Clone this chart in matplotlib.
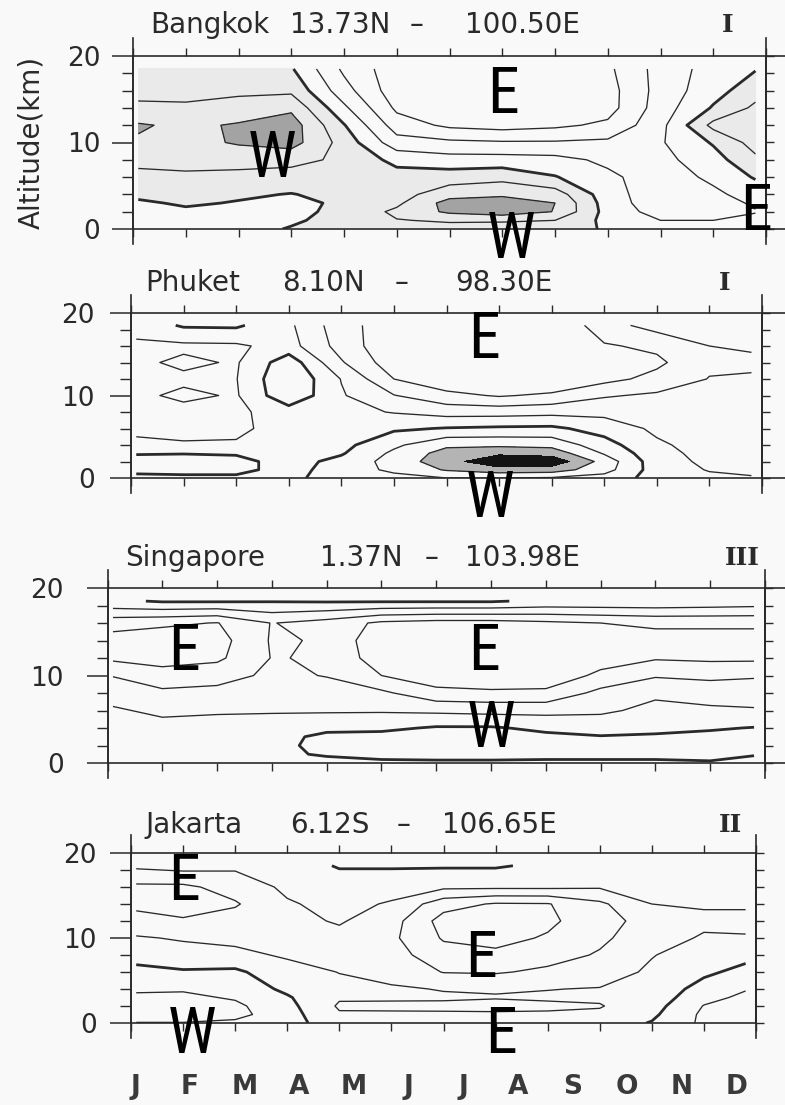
import numpy as np
import matplotlib.pyplot as plt

# sounding grid: month position (0 = start of Jan) and height (km)
months = [0.1, 1, 2, 3, 4, 5, 6, 7, 8, 9, 10, 11, 11.8]
alt_km = [0, 1, 2, 3, 4, 6, 8, 10, 12, 14, 16, 18.5]

# mean zonal wind (m/s, + = westerly), one list per month, ground -> top
bangkok_u = [
    [-3, -2.5, -1.5, -0.7, 1, 3.5, 6.5, 9.5, 10.5, 6, 3.5, 2],
    [-3, -2, -0.8, 0.6, 2, 4.2, 6.5, 8.5, 9, 5.5, 4, 2.5],
    [-2.5, -2, -1, -0.3, 0.7, 3.5, 7, 10.5, 10.5, 7, 4, 2.5],
    [0.5, -1, -1.5, -1.2, -0.2, 3, 6.5, 12, 12.5, 9, 4, 0.5],
    [2, 2.5, 1.5, 0.8, 1.5, 3, 4, 3, 0.3, -4, -8, -11],
    [3, 4.8, 6, 4, 3, 2, -1.5, -8, -12.5, -16, -18, -18],
    [3.5, 5.5, 11, 12, 8, 2.5, -3, -9, -16, -19, -20, -19],
    [3, 5.5, 13, 13, 9, 3.5, -3, -9.5, -17, -20, -21, -19],
    [2, 5, 9.8, 10, 7.5, 0.3, -3.5, -9.5, -16, -19, -20, -18],
    [-0.5, -1.5, -2, -2.5, -3, -4, -6, -9, -14, -17, -17, -16],
    [-3, -5, -7, -8, -8, -7.5, -6.5, -5.5, -6.5, -7.5, -8, -8],
    [-3, -5, -6.5, -6.5, -6, -4, -2, 0.5, 6.5, 0.5, -2, -3],
    [-2, -4, -5.2, -4.5, -3, 0.5, 4, 7, 8, 6, 3, -0.3],
]
phuket_u = [
    [-1, 1, 1.5, -0.3, -4, -6, -6.5, -6, -5.5, -6, -6, -3],
    [-1, 1.5, 2, -0.2, -4.5, -6.5, -6.5, -4, -6, -4, -6, 0.6],
    [-1, 1.5, 1.5, -0.5, -4.5, -6, -6, -5.5, -5.2, -5.5, -5.8, 0.8],
    [-1.5, -2, -2, -2.5, -3, -3, -2.5, 4, 4.8, 3, -3, -4],
    [3, 2.5, 1.5, -0.5, -1.5, -2.5, -3.5, -4.5, -5.2, -9.5, -12, -13],
    [3.5, 6, 7, 6, 4, -0.8, -5.3, -9.8, -15, -18, -19, -18],
    [5, 10.5, 13, 12, 9, 0.3, -7, -13.5, -19, -21, -22, -20],
    [5, 13, 19, 14, 9, 0.8, -7, -15.5, -21, -23, -23, -21],
    [4.5, 12.5, 18.5, 13, 8.5, 1, -6.5, -14, -20, -22, -22, -20],
    [3, 7, 8, 4.5, 2, -2, -6.5, -10.5, -16.5, -17.5, -15.5, -12],
    [-2, -2.5, -3, -3.5, -4.2, -6, -8, -9.2, -13.5, -16, -14, -8],
    [-4, -5.3, -6, -6.5, -7, -7.5, -8, -9, -9.8, -11, -10, -8],
    [-4.6, -6, -6, -6.5, -6.5, -7, -7.5, -8.5, -9.5, -10.8, -9.5, -7],
]
singapore_u = [
    [-2.5, -3, -3.5, -3.8, -4.2, -4.7, -6, -10.3, -16, -17, -13, -1],
    [-2, -2.5, -3, -3.5, -4.2, -5.5, -9, -13, -17, -18, -14, 0.5],
    [-2, -2.5, -3, -3.5, -4, -5.3, -8.5, -12, -16, -17, -15.2, 0.5],
    [-2, -1, -1, -1.5, -4, -5.2, -7, -9, -9.8, -9.5, -9.8, 0.3],
    [-1.5, 0.5, 1, 1, -1, -5.6, -8, -10.2, -10.4, -10.4, -12, 0.5],
    [-1, 1.5, 2.5, 1.5, -1, -5.5, -9, -15, -18, -19, -16, 0.5],
    [-1, 2, 3, 2, 0.5, -6, -13.5, -18, -21, -21, -17, 0.5],
    [-1, 2, 3, 2, 0.5, -6.5, -14, -19, -21, -21, -17, 0.5],
    [-1, 1.5, 2, 1, -1, -6.5, -14, -18, -20, -20, -16, -1],
    [-1, 1.5, 1.5, 0.2, -1.5, -6, -8.5, -14, -17, -18, -15, -1],
    [-1, 1.5, 1.5, 0.5, -1, -3.5, -6, -10.5, -15.5, -17, -14, -1],
    [-0.5, 1.5, 2, 1.2, -0.5, -4, -7.5, -11, -16, -17, -14, -1.5],
    [-1.5, 0.3, 1.5, 1, 0.2, -4.5, -7.5, -10.5, -16, -17, -14, -2],
]
jakarta_u = [
    [4.8, 7.5, 7.5, 6, 4.2, 1.5, -2, -4.5, -8.5, -11, -11, -4],
    [4.8, 7.5, 7.5, 6, 4.5, 0.5, -3, -5.5, -9.5, -12, -11, -3],
    [4, 6.5, 6, 4.5, 3, 1, -4, -6, -8, -10.5, -8, -4],
    [2, 2, 1.5, 0.5, -1, -3.5, -5.5, -6.5, -6.5, -5.5, -4, -3],
    [-3, -4.5, -5.6, -4.5, -4, -5.1, -6, -6.5, -4.5, -3.5, -3, 0.5],
    [-3, -4.5, -5.7, -4.5, -4.5, -6.5, -8, -9, -8, -5.5, -3, 0.5],
    [-3, -4.5, -5.8, -4.5, -5.2, -10.2, -13, -15.5, -17, -13, -4, 0.5],
    [-3, -4.5, -6, -4.8, -5.3, -10.5, -14, -16.5, -18, -15.5, -4, 0.5],
    [-3, -4.5, -5.7, -4.5, -5.1, -9, -12, -14.5, -16, -15.3, -4, -1],
    [-2.5, -4.2, -5.3, -4.3, -4.8, -7, -9.5, -11, -12, -11, -4.5, -2],
    [0.3, -1, -2, -3, -3.5, -4.3, -5.2, -7, -8, -5, -3, -2],
    [6, 6, 5.2, 3.5, 2, -1, -3, -4.5, -6, -4.5, -3, -2],
    [7.5, 7.5, 7, 6, 4.7, 1.5, -1.5, -4.7, -6, -4.5, -3, -2.5],
]

stations = ['Bangkok', 'Phuket', 'Singapore', 'Jakarta']
lats = ['13.73N', '8.10N', '1.37N', '6.12S']
lons = ['100.50E', '98.30E', '103.98E', '106.65E']
groups = ['I', 'I', 'III', 'II']
month_labels = ['J', 'F', 'M', 'A', 'M', 'J', 'J', 'A', 'S', 'O', 'N', 'D']
fields = [bangkok_u, phuket_u, singapore_u, jakarta_u]

# E / W regime marks written over the panels
marks = [['E', 'W', 'W', 'E'], ['E', 'W'], ['E', 'E', 'W'], ['E', 'E', 'W', 'E']]

# ---- layout (pixels of the 785 x 1105 page) ----
W, H = 785, 1105
boxes = [(133, 766, 56, 229), (131, 762, 313, 478),
         (107.5, 765, 588, 763), (131, 756, 853, 1023)]
title_y = [25, 283, 558, 825]
title_x = [(150, 290, 410, 465, 728), (145, 282, 395, 455, 725),
           (125, 320, 425, 465, 742), (145, 290, 397, 442, 730)]
label_pad = [8.5, 11, 16.5, 9.5]
extend_right = [True, True, True, False]
mark_xy = [[(503, 113), (272, 177), (511, 258), (756, 230)],
           [(484, 358), (490, 517)],
           [(184, 670), (484, 670), (491, 747)],
           [(184, 900), (481, 977), (192, 1053), (501, 1053)]]
shades = [([0, 10, 60], ['#eaeaea', '#a3a3a3']),
          ([10, 15, 60], ['#b4b4b4', '#141414']),
          None, None]

ink = '#2a2a2a'
paper = '#f9f9f9'
mark_font = ['Liberation Sans Narrow', 'Roboto Condensed', 'DejaVu Sans']


def fx(px):
    return px / W


def fy(py):
    return 1 - py / H


fig = plt.figure(figsize=(W / 100, H / 100), dpi=100, facecolor=paper)

for i in range(4):
    left, right, top, bottom = boxes[i]
    ax = fig.add_axes([fx(left), fy(bottom), (right - left) / W, (bottom - top) / H])
    ax.set_facecolor(paper)

    u = np.array(fields[i]).T
    if shades[i] is not None:
        ax.contourf(months, alt_km, u, levels=shades[i][0], colors=shades[i][1])
    ax.contour(months, alt_km, u, levels=[-15, -10, -5, 5, 10], colors=ink,
               linewidths=0.95, linestyles='solid')
    ax.contour(months, alt_km, u, levels=[0], colors=ink, linewidths=2.0,
               linestyles='solid')

    ax.set_xlim(0, 12)
    ax.set_ylim(0, 20)
    for s in ax.spines.values():
        s.set_color(ink)
        s.set_linewidth(1.2)

    ax.set_xticks(range(13))
    ax.tick_params(axis='x', which='major', direction='out', length=6, width=1.0,
                   color=ink, top=True, bottom=True, labelbottom=False)
    ax.set_yticks([0, 10, 20])
    ax.set_yticks(range(0, 21, 2), minor=True)
    ax.tick_params(axis='y', which='major', direction='out', length=15, width=1.1,
                   color=ink, labelsize=19, labelcolor=ink, pad=label_pad[i])
    ax.tick_params(axis='y', which='minor', direction='out', length=8, width=1.0, color=ink)

    sec = ax.secondary_yaxis('right')
    sec.set_yticks(range(0, 21, 2))
    sec.tick_params(direction='out', length=5.5, width=1.0, color=ink, labelright=False)
    sec.spines['right'].set_color(ink)
    sec.spines['right'].set_linewidth(1.2)

    # longer end ticks and frame lines running past the box, as on the plot
    hpx = bottom - top
    wpx = right - left
    up, down = 1 + 18 / hpx, -15 / hpx
    for xa in (0, 1):
        ax.plot([xa, xa], [down, up], transform=ax.transAxes, clip_on=False,
                color=ink, lw=1.2)
    if extend_right[i]:
        ext = (W - left) / wpx
        for ya in (0, 1):
            ax.plot([1, ext], [ya, ya], transform=ax.transAxes, clip_on=False,
                    color=ink, lw=1.2)

    # station title
    tx = title_x[i]
    for x, s in zip(tx[:4], [stations[i], lats[i], '\u2013', lons[i]]):
        fig.text(fx(x), fy(title_y[i]), s, ha='left', va='center',
                 fontsize=20, color=ink)
    fig.text(fx(tx[4]), fy(title_y[i]), groups[i], ha='center', va='center',
             fontsize=18, color=ink, family='DejaVu Serif', weight='bold')

    for s, (x, y) in zip(marks[i], mark_xy[i]):
        fig.text(fx(x), fy(y), s, ha='center', va='baseline', fontsize=46,
                 color='black', family=mark_font, fontstretch='condensed',
                 zorder=10)

    if i == 3:
        ax.set_xticks(np.linspace(0.08, 11.63, 12), minor=True)
        ax.set_xticklabels(month_labels, minor=True, fontweight='bold')
        ax.tick_params(axis='x', which='minor', length=0, pad=37, labelsize=19,
                       labelcolor='#3a3a3a', top=False)

fig.text(fx(31), fy(142), 'Altitude(km)', rotation=90, ha='center', va='center',
         fontsize=20, color=ink)

fig.savefig('out.png', dpi=100, facecolor=paper)
